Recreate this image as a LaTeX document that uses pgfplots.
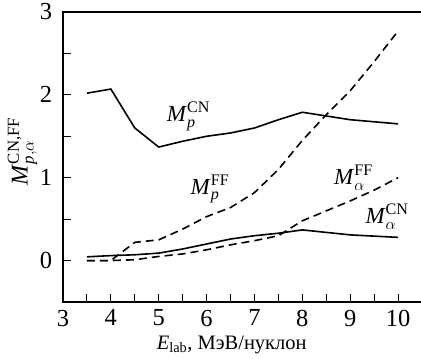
\RequirePackage{fix-cm}
\documentclass[border=0pt]{standalone}
\usepackage{amsmath}
\usepackage{fontspec}
\setmainfont{Liberation Serif}
\usepackage{pgfplots}
\pgfplotsset{compat=1.18}
\begin{document}
\fontsize{23}{27}\selectfont
\begin{tikzpicture}
\begin{axis}[
  name=ax,
  scale only axis,
  width=359pt, height=290pt,
  xmin=3, xmax=10.5, ymin=-0.5, ymax=3,
  xtick={3,4,...,10}, minor xtick={3.5,4.5,...,9.5},
  ytick={0,1,2,3}, minor ytick={0.5,1.5,2.5},
  tick pos=left, tick align=inside,
  major tick length=8pt, minor tick length=8pt,
  tick style={black, line width=1pt},
  axis line style={line width=1.1pt},
  /pgf/number format/assume math mode=true,
  ticklabel style={font=\fontsize{24.5}{28}\selectfont},
  xticklabel style={yshift=0pt},
  yticklabel style={xshift=-3pt},
  xlabel={\textit{E}$_{\textrm{lab}}$, МэВ/нуклон},
  xlabel style={at={(axis description cs:0.47,0)}, anchor=north, yshift=-26pt, font=\fontsize{20.5}{24}\selectfont},
  ylabel={\textit{M}$_{\textit{p},\alpha}^{\textrm{CN,FF}}$},
  ylabel style={at={(axis description cs:0,0.52)}, anchor=south, yshift=18pt, font=\fontsize{24}{28}\selectfont},
  clip=false,
]
% M_p^CN
\addplot[black, no markers, line width=1.6pt] coordinates {(3.5,2.02) (4,2.07) (4.5,1.60) (5,1.37) (5.5,1.44) (6,1.50) (6.5,1.54) (7,1.60) (7.5,1.70) (8,1.79) (9,1.70) (10,1.65)};
% M_p^FF
\addplot[black, no markers, line width=1.6pt, dash pattern=on 8pt off 5pt] coordinates {(3.5,0) (4,0) (4.5,0.22) (5,0.25) (5.5,0.38) (6,0.53) (6.5,0.64) (7,0.82) (7.5,1.10) (8,1.45) (8.5,1.76) (9,2.05) (9.5,2.40) (10,2.77)};
% M_alpha^CN
\addplot[black, no markers, line width=1.6pt] coordinates {(3.5,0.045) (4,0.06) (4.5,0.07) (5,0.09) (5.5,0.14) (6,0.20) (6.5,0.26) (7,0.30) (7.5,0.33) (8,0.37) (9,0.31) (10,0.28)};
% M_alpha^FF
\addplot[black, no markers, line width=1.6pt, dash pattern=on 8pt off 5pt] coordinates {(3.5,0) (4,0) (4.5,0.01) (5,0.05) (5.5,0.08) (6,0.13) (6.5,0.19) (7,0.24) (7.5,0.30) (8,0.48) (8.5,0.60) (9,0.72) (9.5,0.85) (10,1.0)};
\node[font=\fontsize{23}{27}\selectfont] at (axis cs:5.62,1.74) {\textit{M}$_{\textit{p}}^{\textrm{CN}}$};
\node[font=\fontsize{23}{27}\selectfont] at (axis cs:6.07,0.86) {\textit{M}$_{\textit{p}}^{\textrm{FF}}$};
\node[font=\fontsize{23}{27}\selectfont] at (axis cs:9.07,1.0) {\textit{M}$_{\alpha}^{\textrm{FF}}$};
\node[font=\fontsize{23}{27}\selectfont] at (axis cs:9.77,0.53) {\textit{M}$_{\alpha}^{\textrm{CN}}$};
\end{axis}
\pgfresetboundingbox
\path[use as bounding box] ([xshift=-63pt,yshift=-56pt]ax.south west) rectangle ([xshift=-1pt,yshift=12pt]ax.north east);
\end{tikzpicture}
\end{document}
